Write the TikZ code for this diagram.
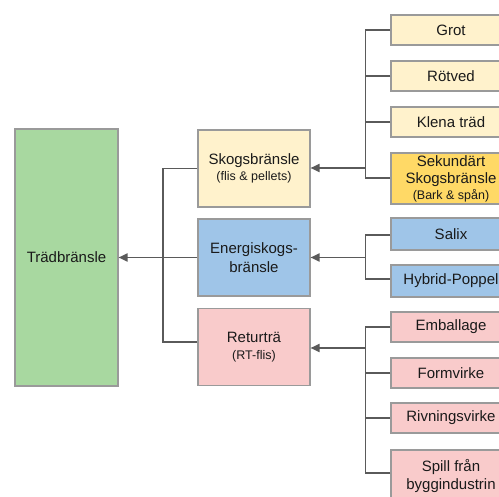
\documentclass[tikz,border=0pt]{standalone}
\usepackage{fontspec}
\setmainfont{Liberation Sans}
\usetikzlibrary{arrows.meta,calc}
\definecolor{cgreen}{HTML}{A8D8A0}
\definecolor{cyellow}{HTML}{FFF2CC}
\definecolor{cgold}{HTML}{FFD966}
\definecolor{cblue}{HTML}{9FC5E8}
\definecolor{cpink}{HTML}{F9CBCB}
\definecolor{cborder}{HTML}{9A9A9A}
\definecolor{cline}{HTML}{5A5A5A}
\definecolor{ctext}{HTML}{1A1A1A}
\tikzset{
  box/.style={draw=cborder, line width=1.1pt, rectangle, align=center, inner sep=0pt,
    text=ctext, font=\fontsize{15}{18.5}\selectfont},
  midbox/.style={box, minimum width=112pt, minimum height=77pt},
  leaf/.style={box, minimum width=120pt, minimum height=30pt},
  conn/.style={draw=cline, line width=1.8pt},
  arr/.style={conn, -{Triangle[length=9pt,width=8pt]}}
}
\newcommand{\sm}[1]{{\fontsize{12.5}{15}\selectfont #1}}
\begin{document}
\begin{tikzpicture}[x=1pt,y=-1pt]
\clip (0,0) rectangle (499,497);
\fill[white] (0,0) rectangle (499,497);
% main
\node[box, fill=cgreen, minimum width=103pt, minimum height=257pt] (trad) at (66.5,257.5) {Trädbränsle};
% middle
\node[midbox, fill=cyellow] (skog) at (254,168.5) {Skogsbränsle\\[-2pt]\sm{(flis \& pellets)}};
\node[midbox, fill=cblue] (energi) at (254,257.5) {Energiskogs-\\bränsle};
\node[midbox, fill=cpink] (retur) at (254,347) {Returträ\\[-2pt]\sm{(RT-flis)}};
% right leaves
\node[leaf, fill=cyellow] (grot) at (451,30) {Grot};
\node[leaf, fill=cyellow] (rotved) at (451,76) {Rötved};
\node[leaf, fill=cyellow] (klena) at (451,122) {Klena träd};
\node[leaf, fill=cgold, minimum height=51pt] (sek) at (451,178.5) {Sekundärt\\[-1pt]Skogsbränsle\\[-3pt]\sm{(Bark \& spån)}};
\node[leaf, fill=cblue, minimum height=32pt] (salix) at (451,234) {Salix};
\node[leaf, fill=cblue, minimum height=32pt] (hybrid) at (451,281) {Hybrid-Poppel};
\node[leaf, fill=cpink] (emb) at (451,327) {Emballage};
\node[leaf, fill=cpink] (form) at (451,373) {Formvirke};
\node[leaf, fill=cpink] (riv) at (451,418) {Rivningsvirke};
\node[leaf, fill=cpink, minimum height=52pt] (spill) at (451,476) {Spill från\\byggindustrin};
% junctions
\coordinate (j1) at (365.5,168);
\coordinate (j2) at (365.5,257.5);
\coordinate (j3) at (365.5,348);
\coordinate (jL) at (163,257.5);
% tree 1
\draw[conn] (grot.west) -| (j1);
\draw[conn] (rotved.west) -| (j1);
\draw[conn] (klena.west) -| (j1);
\draw[conn] ($(sek.west)+(0,-0.5)$) -| (j1);
\draw[arr] (j1) -- (skog.east |- j1);
% tree 2
\draw[conn] ($(salix.west)+(0,1)$) -| (j2);
\draw[conn] ($(hybrid.west)+(0,-2)$) -| (j2);
\draw[arr] (j2) -- (energi.east);
% tree 3
\draw[conn] (emb.west) -| (j3);
\draw[conn] (form.west) -| (j3);
\draw[conn] (riv.west) -| (j3);
\draw[conn] ($(spill.west)+(0,-3)$) -| (j3);
\draw[arr] (j3) -- (retur.east |- j3);
% left tree
\draw[conn] (skog.west) -| (jL);
\draw[conn] ($(retur.west)+(0,-5)$) -| (jL);
\draw[arr] (energi.west) -- (trad.east);
\end{tikzpicture}
\end{document}
